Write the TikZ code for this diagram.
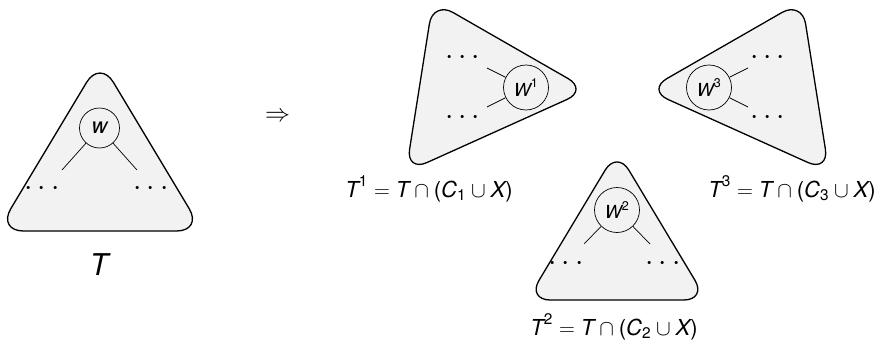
\RequirePackage{fix-cm}
\documentclass[tikz,border=0pt]{standalone}
\usepackage{amsmath}
\usepackage{fontspec}
\setmainfont{TeX Gyre Heros}
\tikzset{
  tri/.style={draw=black, line width=1.3pt, fill=gray!10, line join=round},
  vtx/.style={circle, draw=black, line width=0.7pt, inner sep=0pt, fill=gray!10},
  edgeline/.style={line width=0.7pt},
  dotsnode/.style={inner sep=0pt, anchor=base, font=\fontsize{30}{30}\selectfont},
  lbl/.style={inner sep=0pt, anchor=base, font=\fontsize{22}{24}\selectfont},
  rootfont/.style={font=\fontsize{22}{22}\selectfont},
  subfont/.style={font=\fontsize{18}{18}\selectfont},
}
\begin{document}
\begin{tikzpicture}[x=1pt,y=-1pt]
\useasboundingbox (0,0) rectangle (883,340);

% ---------- left tree T ----------
\draw[tri, rounded corners=26pt] (100,60) -- (202.6,231) -- (-2.6,231) -- cycle;
\node[vtx, minimum size=40pt, rootfont] (w0) at (99.5,128) {\itshape w};
\coordinate (w0l) at (62,170);
\coordinate (w0r) at (137,170);
\draw[edgeline] (w0) -- (w0l);
\draw[edgeline] (w0) -- (w0r);
\node[dotsnode] (d0l) at (44.5,195.5) {$\cdots$};
\node[dotsnode] (d0r) at (153.5,195.5) {$\cdots$};
\node[inner sep=0pt, anchor=base, font=\fontsize{30}{30}\selectfont] (lT) at (99,275) {\itshape T};

% ---------- implication ----------
\node[inner sep=0pt, anchor=base, font=\fontsize{25}{25}\selectfont] (impl) at (277.5,121) {$\Rightarrow$};

% ---------- T1 (pointing right) ----------
\draw[tri, rounded corners=23pt] (433,1) -- (588,90) -- (406,172) -- cycle;
\node[vtx, minimum size=45pt, subfont] (w1) at (526,87.5) {$\textit{W}^{\textup{1}}$};
\coordinate (w1a) at (487,68);
\coordinate (w1b) at (487,107);
\draw[edgeline] (w1) -- (w1a);
\draw[edgeline] (w1) -- (w1b);
\node[dotsnode] (d1a) at (465,64.5) {$\cdots$};
\node[dotsnode] (d1b) at (465,124.5) {$\cdots$};
\node[lbl] (l1) at (429,197) {$\textit{T}^{\textup{1}} = \textit{T} \cap \textup{(}\textit{C}_{\textup{1}} \cup \textit{X}\textup{)}$};

% ---------- T2 (pointing up) ----------
\draw[tri, rounded corners=23pt] (617,150.4) -- (706.8,300) -- (527.2,300) -- cycle;
\node[vtx, minimum size=45pt, subfont] (w2) at (617,210) {$\textit{W}^{\textup{2}}$};
\coordinate (w2l) at (584,244);
\coordinate (w2r) at (650,244);
\draw[edgeline] (w2) -- (w2l);
\draw[edgeline] (w2) -- (w2r);
\node[dotsnode] (d2l) at (568.5,270.5) {$\cdots$};
\node[dotsnode] (d2r) at (665.5,270.5) {$\cdots$};
\node[lbl] (l2) at (614,335) {$\textit{T}^{\textup{2}} = \textit{T} \cap \textup{(}\textit{C}_{\textup{2}} \cup \textit{X}\textup{)}$};

% ---------- T3 (pointing left) ----------
\draw[tri, rounded corners=23pt] (802,1) -- (647,90) -- (829,172) -- cycle;
\node[vtx, minimum size=45pt, subfont] (w3) at (709,87.5) {$\textit{W}^{\textup{3}}$};
\coordinate (w3a) at (748,68);
\coordinate (w3b) at (748,107);
\draw[edgeline] (w3) -- (w3a);
\draw[edgeline] (w3) -- (w3b);
\node[dotsnode] (d3a) at (770,64.5) {$\cdots$};
\node[dotsnode] (d3b) at (770,124.5) {$\cdots$};
\node[lbl] (l3) at (792,197) {$\textit{T}^{\textup{3}} = \textit{T} \cap \textup{(}\textit{C}_{\textup{3}} \cup \textit{X}\textup{)}$};
\end{tikzpicture}
\end{document}
